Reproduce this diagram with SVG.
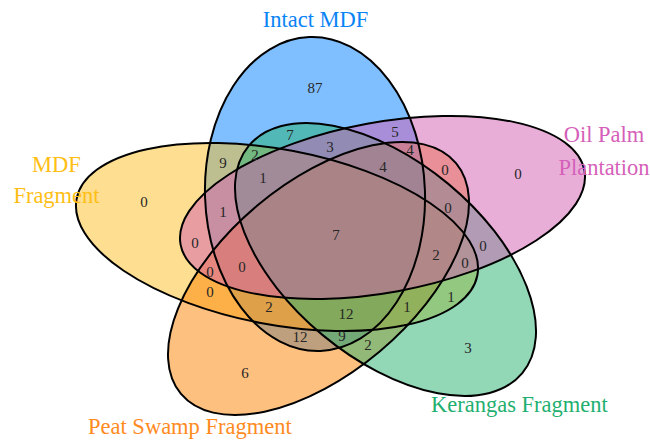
<svg xmlns="http://www.w3.org/2000/svg" width="650" height="440" viewBox="0 0 650 440">
<style>
.fill{fill-opacity:0.5;stroke:none}
.edge{fill:none;stroke:#000;stroke-width:2}
.n{font-family:"Liberation Serif","Times New Roman",serif;font-size:15px;fill:#262626;text-anchor:middle}
.cat{font-family:"Liberation Serif","Times New Roman",serif;font-size:22.5px}
</style>
<rect width="650" height="440" fill="#fff"/>
<g id="intact-mdf"><ellipse class="fill" fill="#0080FF" cx="315" cy="194" rx="110" ry="157" transform="rotate(-2 315 194)"/></g>
<g id="mdf-fragment"><ellipse class="fill" fill="#FDBF23" cx="277" cy="237" rx="204" ry="87.5" transform="rotate(10.8 277 237)"/></g>
<g id="peat-swamp"><ellipse class="fill" fill="#FD8100" cx="318.5" cy="278.5" rx="179.5" ry="95.2" transform="rotate(-40 318.5 278.5)"/></g>
<g id="kerangas"><ellipse class="fill" fill="#25B16F" cx="385.5" cy="259.5" rx="177.8" ry="98.3" transform="rotate(39.7 385.5 259.5)"/></g>
<g id="oil-palm"><ellipse class="fill" fill="#D25DB2" cx="382.5" cy="207.5" rx="205.3" ry="85.1" transform="rotate(-10.4 382.5 207.5)"/></g>
<g id="outlines">
<ellipse class="edge" cx="315" cy="194" rx="110" ry="157" transform="rotate(-2 315 194)"/>
<ellipse class="edge" cx="277" cy="237" rx="204" ry="87.5" transform="rotate(10.8 277 237)"/>
<ellipse class="edge" cx="318.5" cy="278.5" rx="179.5" ry="95.2" transform="rotate(-40 318.5 278.5)"/>
<ellipse class="edge" cx="385.5" cy="259.5" rx="177.8" ry="98.3" transform="rotate(39.7 385.5 259.5)"/>
<ellipse class="edge" cx="382.5" cy="207.5" rx="205.3" ry="85.1" transform="rotate(-10.4 382.5 207.5)"/>
</g>
<g id="counts">
<text class="n" x="315" y="93">87</text>
<text class="n" x="290" y="140">7</text>
<text class="n" x="223" y="168">9</text>
<text class="n" x="255" y="160">2</text>
<text class="n" x="263" y="183">1</text>
<text class="n" x="330" y="152">3</text>
<text class="n" x="223" y="217">1</text>
<text class="n" x="395" y="137">5</text>
<text class="n" x="410" y="155">4</text>
<text class="n" x="383" y="172">4</text>
<text class="n" x="445" y="175">0</text>
<text class="n" x="448" y="213">0</text>
<text class="n" x="144" y="207">0</text>
<text class="n" x="518" y="179">0</text>
<text class="n" x="195" y="248">0</text>
<text class="n" x="210" y="277">0</text>
<text class="n" x="242" y="272">0</text>
<text class="n" x="210" y="297">0</text>
<text class="n" x="269" y="312">2</text>
<text class="n" x="300" y="342">12</text>
<text class="n" x="245" y="378">6</text>
<text class="n" x="336" y="240">7</text>
<text class="n" x="436" y="260">2</text>
<text class="n" x="465" y="268">0</text>
<text class="n" x="483" y="251">0</text>
<text class="n" x="346" y="319">12</text>
<text class="n" x="407" y="312">1</text>
<text class="n" x="451" y="302">1</text>
<text class="n" x="342" y="341">9</text>
<text class="n" x="368" y="350">2</text>
<text class="n" x="468" y="353">3</text>
</g>
<g id="labels">
<text class="cat" x="315.5" y="27" text-anchor="middle" fill="#0A84F5">Intact MDF</text>
<text class="cat" x="604" y="142" text-anchor="middle" fill="#D55FB9">Oil Palm</text>
<text class="cat" x="604" y="175" text-anchor="middle" fill="#D55FB9">Plantation</text>
<text class="cat" x="56.5" y="172" text-anchor="middle" fill="#FFBE14">MDF</text>
<text class="cat" x="56.5" y="203" text-anchor="middle" fill="#FFBE14">Fragment</text>
<text class="cat" x="88" y="434" fill="#FF8A1E">Peat Swamp Fragment</text>
<text class="cat" x="431" y="412" fill="#1FAF6F">Kerangas Fragment</text>
</g>
</svg>
